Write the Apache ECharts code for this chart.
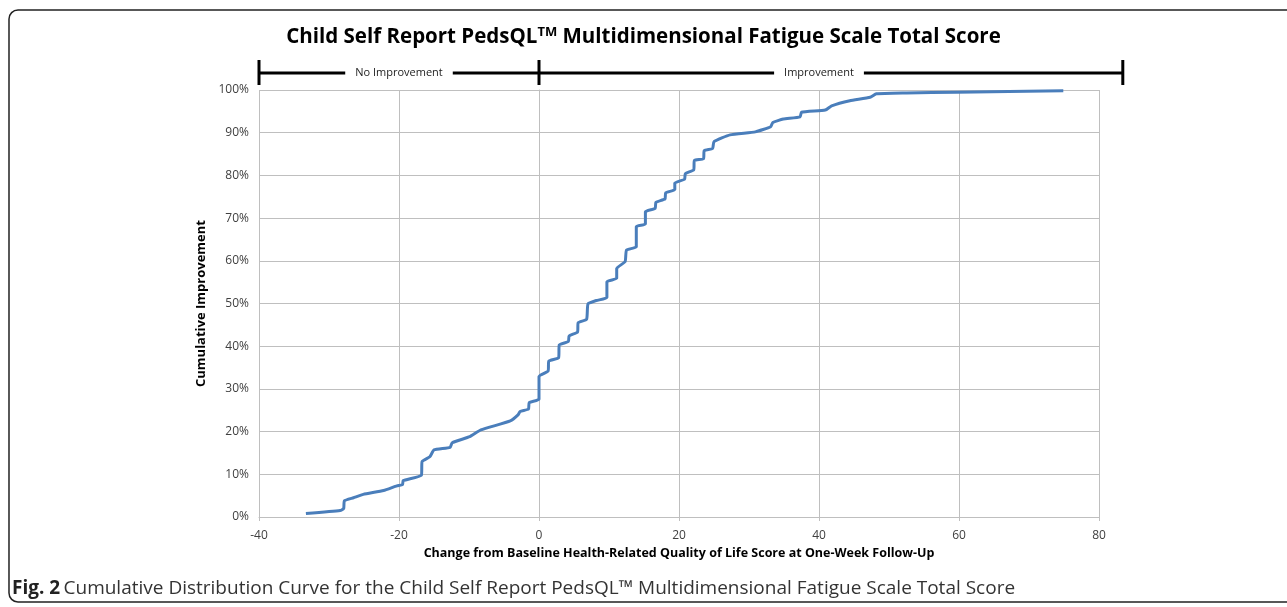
<!DOCTYPE html>
<html>
<head>
<meta charset="utf-8">
<script src="https://cdn.jsdelivr.net/npm/echarts@6/dist/echarts.min.js"></script>
<style>
  html, body { margin: 0; padding: 0; background: #fff; }
  #main { width: 1287px; height: 607px; }
</style>
</head>
<body>
<div id="main"></div>
<script>
// change from baseline (x) vs cumulative share (%)
var changeScore = [-33.3, -28.4, -27.9, -27.8, -26.5, -25.1, -22.2, -20.3, -19.5, -19.4,
  -16.8, -16.7, -15.6, -15.0, -12.7, -12.4, -9.9, -8.3, -4.1, -3.0,
  -2.7, -1.5, -1.4, 0.0, 0.0, 1.3, 1.4, 2.8, 2.9, 4.2,
  4.3, 5.5, 5.6, 6.8, 7.0, 8.2, 9.7, 9.7, 11.1, 11.1,
  12.3, 12.5, 13.9, 13.9, 15.2, 15.2, 16.6, 16.7, 18.0, 18.1,
  19.4, 19.4, 20.8, 20.9, 22.1, 22.2, 23.5, 23.6, 24.8, 25.0,
  27.3, 30.9, 33.1, 33.4, 34.9, 37.3, 37.5, 40.9, 41.8, 44.4,
  47.3, 48.2, 52.5, 59.7, 74.9];
var cumulative = [0.8, 1.5, 2.0, 3.8, 4.5, 5.3, 6.2, 7.3, 7.6, 8.5,
  9.8, 13.0, 14.1, 15.7, 16.3, 17.4, 18.8, 20.4, 22.5, 23.9,
  24.7, 25.3, 26.8, 27.6, 32.9, 34.2, 36.5, 37.3, 40.3, 41.1,
  42.4, 43.3, 45.5, 46.3, 49.9, 50.7, 51.4, 55.1, 55.9, 58.2,
  59.8, 62.5, 63.3, 68.0, 68.6, 71.5, 72.3, 73.7, 74.5, 75.9,
  76.7, 78.2, 79.1, 80.4, 81.3, 83.5, 83.9, 85.8, 86.3, 87.9,
  89.5, 90.2, 91.4, 92.4, 93.2, 93.7, 94.8, 95.3, 96.3, 97.5,
  98.3, 99.1, 99.3, 99.5, 99.8];

// bracket over the plot: caps and label centres in x-axis units
var bracketCaps = [-40, 0, 83.4];
var bracketLabels = ['No Improvement', 'Improvement'];
var bracketLabelAt = [-20, 40];

var chart = echarts.init(document.getElementById('main'));

var pts = changeScore.map(function (x, i) { return [x, cumulative[i]]; });
var font = '"Open Sans", "Noto Sans", sans-serif';

var option = {
  animation: false,
  backgroundColor: '#fff',
  title: {
    text: 'Child Self Report PedsQL{sup|TM} Multidimensional Fatigue Scale Total Score',
    left: 'center',
    top: 21,
    textStyle: {
      fontFamily: font,
      fontSize: 20.5,
      fontWeight: 'bold',
      color: '#000',
      rich: {
        sup: { fontFamily: font, fontSize: 13, fontWeight: 'bold', color: '#000', verticalAlign: 'top', padding: [0, 0, 10, 0] }
      }
    }
  },
  grid: { left: 259, right: 188, top: 90, bottom: 90 },
  xAxis: {
    type: 'value',
    min: -40,
    max: 80,
    interval: 20,
    name: 'Change from Baseline Health-Related Quality of Life Score at One-Week Follow-Up',
    nameLocation: 'middle',
    nameGap: 28,
    nameTextStyle: { fontFamily: font, fontSize: 12.5, fontWeight: 'bold', color: '#000' },
    axisLine: { onZero: false, lineStyle: { color: '#bfbfbf', width: 1 } },
    axisTick: { show: true, length: 4, lineStyle: { color: '#bfbfbf' } },
    axisLabel: { fontFamily: font, fontSize: 12, color: '#404040', margin: 13 },
    splitLine: { lineStyle: { color: '#bfbfbf', width: 1 } }
  },
  yAxis: {
    type: 'value',
    min: 0,
    max: 100,
    interval: 10,
    name: 'Cumulative Improvement',
    nameLocation: 'middle',
    nameGap: 46,
    nameRotate: 90,
    nameTextStyle: { fontFamily: font, fontSize: 13, fontWeight: 'bold', color: '#000' },
    axisLine: { show: true, lineStyle: { color: '#bfbfbf', width: 1 } },
    axisTick: { show: true, length: 4, lineStyle: { color: '#bfbfbf' } },
    axisLabel: { fontFamily: font, fontSize: 12, color: '#404040', margin: 10, formatter: '{value}%' },
    splitLine: { lineStyle: { color: '#bfbfbf', width: 1 } }
  },
  series: [{
    type: 'line',
    data: pts,
    showSymbol: false,
    smooth: 0.15,
    lineStyle: { color: '#4a7ebb', width: 3 },
    itemStyle: { color: '#4a7ebb' }
  }]
};

chart.setOption(option);

// bracket + frame + caption drawn once the scale is known
var capPx = bracketCaps.map(function (v) { return chart.convertToPixel({ xAxisIndex: 0 }, v); });
var bracketY = 73;
var elems = [];
elems.push({
  type: 'rect',
  shape: { x: 9, y: 10, width: 1300, height: 592, r: 9 },
  style: { fill: 'none', stroke: '#222', lineWidth: 1.5 },
  silent: true
});
elems.push({
  type: 'line',
  shape: { x1: capPx[0], y1: bracketY, x2: capPx[capPx.length - 1], y2: bracketY },
  style: { stroke: '#000', lineWidth: 3 }
});
capPx.forEach(function (px) {
  elems.push({
    type: 'line',
    shape: { x1: px, y1: 60, x2: px, y2: 85 },
    style: { stroke: '#000', lineWidth: 3 }
  });
});
bracketLabels.forEach(function (t, i) {
  elems.push({
    type: 'text',
    x: chart.convertToPixel({ xAxisIndex: 0 }, bracketLabelAt[i]),
    y: bracketY,
    style: {
      text: t,
      fontFamily: font,
      fontSize: 11,
      fill: '#222',
      align: 'center',
      verticalAlign: 'middle',
      backgroundColor: '#fff',
      padding: [2, 10]
    }
  });
});
elems.push({
  type: 'text',
  left: 12,
  top: 579,
  style: {
    rich: {
      b: { fontFamily: font, fontSize: 19, fontWeight: 'bold', fill: '#222' },
      n: { fontFamily: font, fontSize: 19, fill: '#333' }
    },
    text: '{b|Fig. 2} {n|Cumulative Distribution Curve for the Child Self Report PedsQL™ Multidimensional Fatigue Scale Total Score}'
  }
});
chart.setOption({ graphic: elems });
</script>
</body>
</html>
